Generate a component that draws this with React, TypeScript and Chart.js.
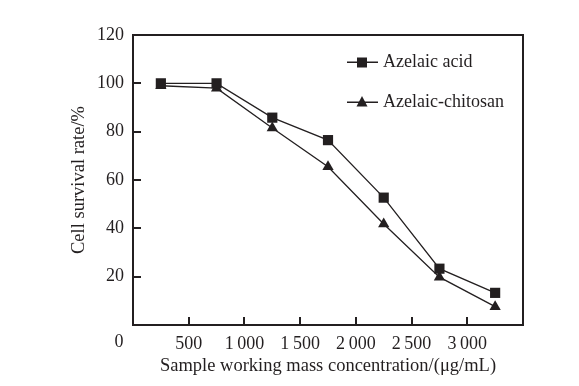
import React, { useEffect, useRef } from "react";
import { Chart, registerables } from "chart.js";

Chart.register(...registerables);

const concentrations = [250, 750, 1250, 1750, 2250, 2750, 3250];
const azelaicAcid = [100, 100, 85.8, 76.5, 52.7, 23.3, 13.3];
const azelaicChitosan = [99, 98, 81.5, 65.5, 41.8, 19.8, 7.6];
const seriesNames = ["Azelaic acid", "Azelaic-chitosan"];
const xTitle = "Sample working mass concentration/(\u03bcg/mL)";
const yTitle = "Cell survival rate/%";
const xTicks = [500, 1000, 1500, 2000, 2500, 3000];
const yTicks = [20, 40, 60, 80, 100, 120];

const INK = "#231f20";
const FONT = "'Liberation Serif', 'Times New Roman', serif";

const fmt = (v: number) => {
  if (v >= 1000) {
    const th = Math.floor(v / 1000);
    const rest = String(v % 1000).padStart(3, "0");
    return th + "\u2009" + rest;
  }
  return String(v);
};

const decorPlugin = {
  id: "decor",
  afterDraw(chart: any) {
    const ctx = chart.ctx as CanvasRenderingContext2D;
    const area = chart.chartArea;
    const L = Math.round(area.left);
    const R = Math.round(area.right);
    const T = Math.round(area.top);
    const B = Math.round(area.bottom);
    const xs = chart.scales.x;
    const ys = chart.scales.y;
    ctx.save();
    ctx.fillStyle = INK;
    ctx.font = `18px ${FONT}`;
    ctx.textAlign = "center";
    ctx.textBaseline = "middle";
    ctx.fillText("0", L - 14, B + 17);
    ctx.font = `18.5px ${FONT}`;
    ctx.fillText(xTitle, (L + R) / 2, B + 41);
    ctx.save();
    ctx.translate(79, (T + B) / 2);
    ctx.rotate(-Math.PI / 2);
    ctx.fillText(yTitle, 0, 0);
    ctx.restore();
    // box top & right, 2px like the axes
    ctx.fillRect(L - 1, T - 1, R - L + 2, 2);
    ctx.fillRect(R - 1, T - 1, 2, B - T + 2);
    // inside ticks
    for (const t of xTicks) {
      const x = Math.round(xs.getPixelForValue(t));
      ctx.fillRect(x - 1, B - 8, 2, 8);
    }
    for (const t of yTicks) {
      const y = Math.round(ys.getPixelForValue(t));
      ctx.fillRect(L, y - 1, 8, 2);
    }
    // legend
    ctx.font = `18px ${FONT}`;
    const lx0 = 347, lx1 = 378, mx = 362;
    const rows = [62, 102];
    ctx.textAlign = "left";
    rows.forEach((y, i) => {
      ctx.fillRect(lx0, y - 0.5, lx1 - lx0, 1.5);
      ctx.beginPath();
      if (i === 0) {
        ctx.rect(mx - 5, y - 4.5, 10, 10);
      } else {
        ctx.moveTo(mx, y - 6);
        ctx.lineTo(mx + 5.5, y + 4.5);
        ctx.lineTo(mx - 5.5, y + 4.5);
        ctx.closePath();
      }
      ctx.fill();
      ctx.fillText(seriesNames[i], 383, y);
    });
    ctx.restore();
  },
};

export default function App() {
  const ref = useRef<HTMLCanvasElement>(null);
  useEffect(() => {
    const canvas = ref.current!;
    const chart = new Chart(canvas, {
      type: "line",
      data: {
        datasets: [
          {
            label: seriesNames[0],
            data: concentrations.map((x, i) => ({ x, y: azelaicAcid[i] })),
            borderColor: INK,
            backgroundColor: INK,
            borderWidth: 1.3,
            pointStyle: "rect",
            pointRadius: 7.2,
            pointBorderWidth: 0,
            tension: 0,
          },
          {
            label: seriesNames[1],
            data: concentrations.map((x, i) => ({ x, y: azelaicChitosan[i] })),
            borderColor: INK,
            backgroundColor: INK,
            borderWidth: 1.3,
            pointStyle: "triangle",
            pointRadius: 6.5,
            pointBorderWidth: 0,
            tension: 0,
          },
        ],
      },
      options: {
        animation: false,
        responsive: false,
        maintainAspectRatio: false,
        layout: { padding: { top: 35, right: 56, left: 0, bottom: 0 } },
        plugins: { legend: { display: false }, tooltip: { enabled: false } },
        scales: {
          x: {
            type: "linear",
            min: 0,
            max: 3500,
            afterFit: (s: any) => {
              s.height = 61;
            },
            afterBuildTicks: (s: any) => {
              s.ticks = [0, ...xTicks, 3500].map((v) => ({ value: v }));
            },
            ticks: {
              color: INK,
              font: { family: FONT, size: 18 },
              padding: 8,
              maxRotation: 0,
              autoSkip: false,
              callback: (v: any) => (v === 0 || v === 3500 ? "" : fmt(Number(v))),
            },
            grid: { display: false, drawTicks: false },
            border: { display: true, color: INK, width: 2 },
          },
          y: {
            type: "linear",
            min: 0,
            max: 120,
            afterFit: (s: any) => {
              s.width = 133;
            },
            afterBuildTicks: (s: any) => {
              s.ticks = [0, ...yTicks].map((v) => ({ value: v }));
            },
            ticks: {
              color: INK,
              font: { family: FONT, size: 18 },
              padding: 9,
              autoSkip: false,
              callback: (v: any) => (v === 0 ? "" : String(v)),
            },
            grid: { display: false, drawTicks: false },
            border: { display: true, color: INK, width: 2 },
          },
        },
      },
      plugins: [decorPlugin],
    });
    return () => chart.destroy();
  }, []);
  return (
    <div style={{ position: "fixed", left: 0, top: 0, width: 579, height: 386, background: "#fff" }}>
      <canvas ref={ref} width={579} height={386} style={{ width: 579, height: 386 }} />
    </div>
  );
}
